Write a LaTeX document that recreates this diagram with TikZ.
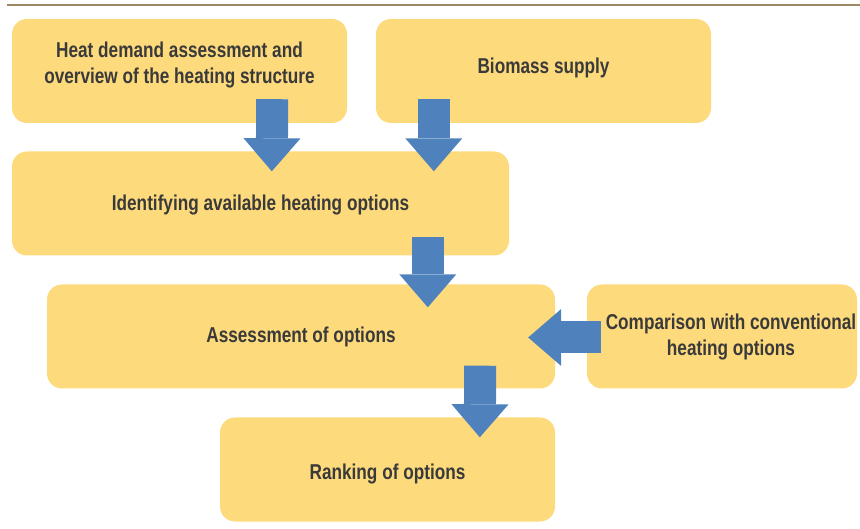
\documentclass[tikz,border=0pt]{standalone}
\usepackage{fontspec}
\setmainfont{Liberation Sans}[FakeStretch=0.8]
\usetikzlibrary{arrows.meta}
\definecolor{boxyellow}{HTML}{FDDA7C}
\definecolor{arrowblue}{HTML}{4F81BD}
\definecolor{textgray}{HTML}{3A3A3A}
\definecolor{rulebrown}{HTML}{A08763}
\begin{document}
\begin{tikzpicture}[x=1pt,y=1pt,
  stepbox/.style={fill=boxyellow,rounded corners=15pt,minimum height=104pt,inner sep=0pt,
    align=center,text=textgray,font=\bfseries\fontsize{21.5}{26}\selectfont},
  flow/.style={arrowblue,line width=32pt,-{Triangle[width=57pt,length=33pt,line width=0pt]}}]
\useasboundingbox (0,0) rectangle (860,-529);
\draw[rulebrown,line width=1.5pt] (7,-5)--(860,-5);
\node[stepbox,minimum width=335pt,text depth=16.5pt] (heat) at (179.5,-71) {Heat demand assessment and\\overview of the heating structure};
\node[stepbox,minimum width=335pt,text depth=10.5pt] (biomass) at (543.5,-71) {Biomass supply};
\node[stepbox,minimum width=497pt,text height=19pt] (options) at (260.5,-203.5) {Identifying available heating options};
\node[stepbox,minimum width=508pt] (assess) at (301,-336.5) {Assessment of options};
\node[stepbox,minimum width=270pt] (compare) at (722,-336.5) {\hspace*{18pt}Comparison with conventional\\\hspace*{18pt}heating options};
\node[stepbox,minimum width=335pt,text height=24pt] (rank) at (387.5,-469.5) {Ranking of options};
\draw[flow] ([shift={(-75,24)}]heat.south east)--([shift={(260,-20)}]options.north west);
\draw[flow] ([shift={(58,24)}]biomass.south west)--([shift={(422,-20)}]options.north west);
\draw[flow] ([shift={(416,19)}]options.south west)--([shift={(381,-23)}]assess.north west);
\draw[flow] ([shift={(14,-1)}]compare.west)--([shift={(-27,-1)}]assess.east);
\draw[flow] ([shift={(-75,23)}]assess.south east)--([shift={(260,-20)}]rank.north west);
\end{tikzpicture}
\end{document}
